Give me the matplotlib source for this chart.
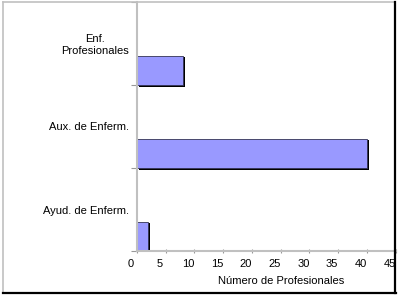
import matplotlib
matplotlib.use("Agg")
import matplotlib.pyplot as plt
from matplotlib.lines import Line2D
from matplotlib.transforms import ScaledTranslation

plt.rcParams['font.family'] = ['Liberation Sans', 'DejaVu Sans']

categories = ['Ayud. de Enferm.', 'Aux. de Enferm.', 'Enf.\nProfesionales']
values = [2, 40, 8]
xticks = [0, 5, 10, 15, 20, 25, 30, 35, 40, 45]

W, H = 400, 297
fig = plt.figure(figsize=(W / 100, H / 100), dpi=100)
fig.patch.set_facecolor('white')

# plot area in pixels: x 137..395.5, y 2..251 (from top)
ax = fig.add_axes([137 / W, (H - 251) / H, (395.5 - 137) / W, 249 / H])
ax.set_xlim(0, 45)
ax.set_ylim(0, 3)

ypos = list(range(len(categories)))
shadow = ScaledTranslation(2 / 100, -1.5 / 100, fig.dpi_scale_trans)
ax.barh(ypos, values, height=0.35, align='edge', color='black',
        transform=ax.transData + shadow, zorder=2)
ax.barh(ypos, values, height=0.35, align='edge', color='#9999ff',
        edgecolor='#333355', linewidth=0.6, zorder=3)

for s in ['top', 'right']:
    ax.spines[s].set_visible(False)
for s in ['left', 'bottom']:
    ax.spines[s].set_color('#c0c0c0')
    ax.spines[s].set_linewidth(1.5)
    ax.spines[s].set_zorder(4)

ax.set_xticks(xticks)
ax.set_xticklabels([str(t) for t in xticks])
ax.tick_params(axis='x', direction='inout', length=3, color='#999999',
               labelsize=8, pad=4)
off = ScaledTranslation(-6 / 100, 0, fig.dpi_scale_trans)
for lbl in ax.get_xticklabels():
    lbl.set_transform(lbl.get_transform() + off)

ax.set_yticks([0, 1, 2, 3])
ax.set_yticklabels([])
ax.tick_params(axis='y', which='major', direction='out', length=4,
               color='#999999')
ax.set_yticks([y + 0.5 for y in ypos], minor=True)
ax.set_yticklabels(categories, minor=True, ha='right', multialignment='center')
ax.tick_params(axis='y', which='minor', length=0, labelsize=8, pad=6)

ax.set_xlabel('Número de Profesionales', fontsize=8)
ax.xaxis.set_label_coords(0.557, -0.12)
ax.xaxis.label.set_va('center')

# chart border with shadow
fy = lambda p: (H - p) / H
fig.add_artist(Line2D([3 / W, 394 / W], [fy(2), fy(2)], color='#c0c0c0', lw=1.2))
fig.add_artist(Line2D([3 / W, 3 / W], [fy(2), fy(292)], color='#c0c0c0', lw=1.2))
fig.add_artist(Line2D([394.5 / W, 394.5 / W], [fy(2), fy(292.5)], color='black', lw=1.6))
fig.add_artist(Line2D([3 / W, 395.5 / W], [fy(292.5), fy(292.5)], color='black', lw=1.6))

fig.savefig('out.png', dpi=100)
